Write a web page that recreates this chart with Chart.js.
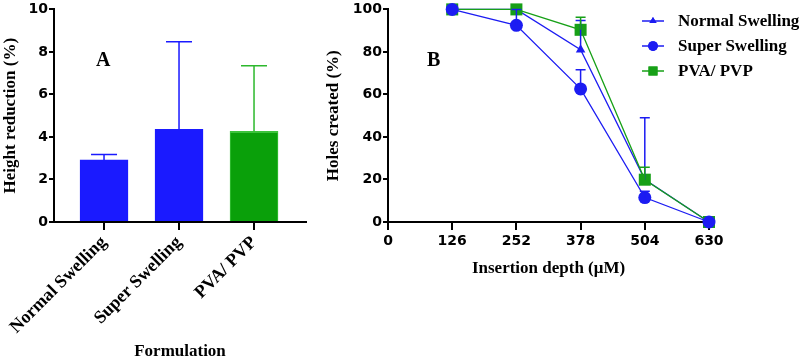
<!DOCTYPE html>
<html>
<head>
<meta charset="utf-8">
<script src="https://cdn.jsdelivr.net/npm/chart.js@4.4.1/dist/chart.umd.min.js"></script>
<style>
  body { margin: 0; background: #fff; }
  #wrap { position: relative; width: 810px; height: 364px; }
  #barBox { position: absolute; left: 0; top: 0; width: 320px; height: 364px; }
  #lineBox { position: absolute; left: 320px; top: 0; width: 490px; height: 364px; }
  .panel { position: absolute; font: bold 20px 'Liberation Serif'; color: #000; }
  #legend { position: absolute; left: 640px; top: 8px; font: bold 17px 'Liberation Serif'; color: #000; }
  #legend .item { display: flex; align-items: center; height: 25px; }
  #legend canvas { margin-right: 12px; }
</style>
</head>
<body>
<div id="wrap">
  <div id="barBox"><canvas id="barChart"></canvas></div>
  <div id="lineBox"><canvas id="lineChart"></canvas></div>
  <div class="panel" style="left:96px;top:48px;">A</div>
  <div class="panel" style="left:427px;top:48px;">B</div>
  <div id="legend"></div>
</div>
<script>
// Panel A: height reduction per formulation
const formulations = ['Normal Swelling', 'Super Swelling', 'PVA/ PVP'];
const heightMean = [2.92, 4.36, 4.27];
const heightSD = [0.26, 4.12, 3.08];
const heightTicks = [0, 2, 4, 6, 8, 10];

// Panel B: holes created vs insertion depth
const depths = [126, 252, 378, 504, 630];
const depthTicks = [0, 126, 252, 378, 504, 630];
const holeTicks = [0, 20, 40, 60, 80, 100];
const seriesNames = ['Normal Swelling', 'Super Swelling', 'PVA/ PVP'];
const normalHoles = [100, 100, 81, 20, 0];
const normalSD = [0, 0, 13.8, 29, 0];
const superHoles = [100, 92.5, 62.6, 11.5, 0];
const superSD = [0, 7.5, 9, 3, 0];
const pvaHoles = [100, 100, 90.4, 19.9, 0];
const pvaSD = [0, 0, 5.9, 5.9, 0];

const BLUE = '#1c1cf2';
const BAR_BLUE = '#1a1aff';
const GREEN = '#17a017';
const BAR_GREEN = '#0aa00a';

const tickFont = { family: 'DejaVu Sans', size: 14, weight: 'bold' };
const titleFont = { family: 'Liberation Serif', size: 17, weight: 'bold' };

function axisStyle(tickLen) {
  return {
    offset: false,
    grid: { offset: false, drawOnChartArea: false, drawTicks: true, tickLength: tickLen, color: '#000', lineWidth: 2 },
    border: { display: true, color: '#000', width: 2 }
  };
}

// error bars for the bars (upper only)
const barErrors = {
  id: 'barErrors',
  afterDatasetsDraw(chart) {
    const ctx = chart.ctx;
    const y = chart.scales.y;
    const meta = chart.getDatasetMeta(0);
    const colors = chart.data.datasets[0].errorColor;
    meta.data.forEach((bar, i) => {
      const top = y.getPixelForValue(heightMean[i] + heightSD[i]);
      ctx.save();
      ctx.strokeStyle = colors[i];
      ctx.lineWidth = 1.5;
      ctx.beginPath();
      ctx.moveTo(bar.x, bar.y);
      ctx.lineTo(bar.x, top);
      ctx.moveTo(bar.x - 13, top);
      ctx.lineTo(bar.x + 13, top);
      ctx.stroke();
      ctx.restore();
    });
  }
};

new Chart(document.getElementById('barChart'), {
  type: 'bar',
  data: {
    datasets: [{
      data: heightMean.map((v, i) => ({ x: i, y: v })),
      backgroundColor: [BAR_BLUE, BAR_BLUE, BAR_GREEN],
      borderColor: [BAR_BLUE, BAR_BLUE, '#3cc33c'],
      borderWidth: { top: 2, left: 1, right: 1, bottom: 0 },
      errorColor: [BAR_BLUE, BAR_BLUE, '#2db82d'],
      barThickness: 48
    }]
  },
  options: {
    responsive: true,
    maintainAspectRatio: false,
    animation: false,
    layout: { padding: { top: 0, right: 14, bottom: 0, left: 0 } },
    plugins: { legend: { display: false }, tooltip: { enabled: false } },
    scales: {
      x: {
        type: 'linear',
        min: -0.667,
        max: 2.693,
        ...axisStyle(8),
        afterBuildTicks: s => { s.ticks = formulations.map((c, i) => ({ value: i })); },
        afterFit: s => { s.height = 142; },
        ticks: {
          autoSkip: false,
          minRotation: 45,
          maxRotation: 45,
          padding: 2,
          color: '#000',
          font: { family: 'Liberation Serif', size: 18, weight: 'bold' },
          callback: v => formulations[v]
        },
        title: { display: true, text: 'Formulation', color: '#000', font: titleFont, padding: { top: 0, bottom: 2 } }
      },
      y: {
        min: 0,
        max: 10,
        ...axisStyle(5),
        afterBuildTicks: s => { s.ticks = heightTicks.map(v => ({ value: v })); },
        afterFit: s => { s.width = 54; },
        ticks: { color: '#000', font: tickFont, padding: 1 },
        title: { display: true, text: 'Height reduction (%)', color: '#000', font: titleFont, padding: { top: 0, bottom: 0 } }
      }
    }
  },
  plugins: [barErrors]
});

// error bars for the line chart (upper only)
const lineErrors = {
  id: 'lineErrors',
  afterDatasetsDraw(chart) {
    const ctx = chart.ctx;
    const y = chart.scales.y;
    chart.data.datasets.forEach((ds, d) => {
      const meta = chart.getDatasetMeta(d);
      meta.data.forEach((pt, i) => {
        if (!ds.sd[i]) return;
        const top = y.getPixelForValue(ds.data[i].y + ds.sd[i]);
        ctx.save();
        ctx.strokeStyle = ds.borderColor;
        ctx.lineWidth = 1.5;
        ctx.beginPath();
        ctx.moveTo(pt.x, pt.y);
        ctx.lineTo(pt.x, top);
        ctx.moveTo(pt.x - 5, top);
        ctx.lineTo(pt.x + 5, top);
        ctx.stroke();
        ctx.restore();
      });
    });
  }
};

const lineSeries = [
  { name: seriesNames[0], values: normalHoles, sd: normalSD, color: BLUE, style: 'triangle', radius: 5.5, order: 2 },
  { name: seriesNames[1], values: superHoles, sd: superSD, color: BLUE, style: 'circle', radius: 6.5, order: 0 },
  { name: seriesNames[2], values: pvaHoles, sd: pvaSD, color: GREEN, style: 'rect', radius: 8.5, order: 1 }
];

new Chart(document.getElementById('lineChart'), {
  type: 'line',
  data: {
    datasets: lineSeries.map(s => ({
      label: s.name,
      data: s.values.map((v, i) => ({ x: depths[i], y: v })),
      sd: s.sd,
      borderColor: s.color,
      backgroundColor: s.color,
      borderWidth: 1.3,
      pointStyle: s.style,
      pointRadius: s.radius,
      pointBorderWidth: 0,
      order: s.order,
      clip: false
    }))
  },
  options: {
    responsive: true,
    maintainAspectRatio: false,
    animation: false,
    layout: { padding: { top: 0, right: 101, bottom: 84, left: 0 } },
    plugins: { legend: { display: false }, tooltip: { enabled: false } },
    scales: {
      x: {
        type: 'linear',
        min: 0,
        max: 630,
        ...axisStyle(8),
        afterBuildTicks: s => { s.ticks = depthTicks.map(v => ({ value: v })); },
        afterFit: s => { s.height = 58; },
        ticks: { color: '#000', font: tickFont, padding: 3, maxRotation: 0 },
        title: { display: true, text: 'Insertion depth (μM)', color: '#000', font: titleFont, padding: { top: 0, bottom: 1 } }
      },
      y: {
        min: 0,
        max: 100,
        ...axisStyle(5),
        afterBuildTicks: s => { s.ticks = holeTicks.map(v => ({ value: v })); },
        afterFit: s => { s.width = 68; },
        ticks: { color: '#000', font: tickFont, padding: 1 },
        title: { display: true, text: 'Holes created (%)', color: '#000', font: titleFont, padding: { top: 3, bottom: 0 } }
      }
    }
  },
  plugins: [lineErrors]
});

// legend with line + marker swatches
const legendBox = document.getElementById('legend');
lineSeries.forEach(s => {
  const row = document.createElement('div');
  row.className = 'item';
  const c = document.createElement('canvas');
  c.width = 26; c.height = 16;
  const g = c.getContext('2d');
  g.strokeStyle = s.color;
  g.lineWidth = 1.5;
  g.beginPath(); g.moveTo(2, 8); g.lineTo(24, 8); g.stroke();
  g.fillStyle = s.color;
  Chart.helpers.drawPoint(g, { pointStyle: s.style, radius: s.radius * 0.75, borderWidth: 0 }, 13, 8);
  g.fill();
  row.appendChild(c);
  const t = document.createElement('span');
  t.textContent = s.name;
  row.appendChild(t);
  legendBox.appendChild(row);
});
</script>
</body>
</html>
